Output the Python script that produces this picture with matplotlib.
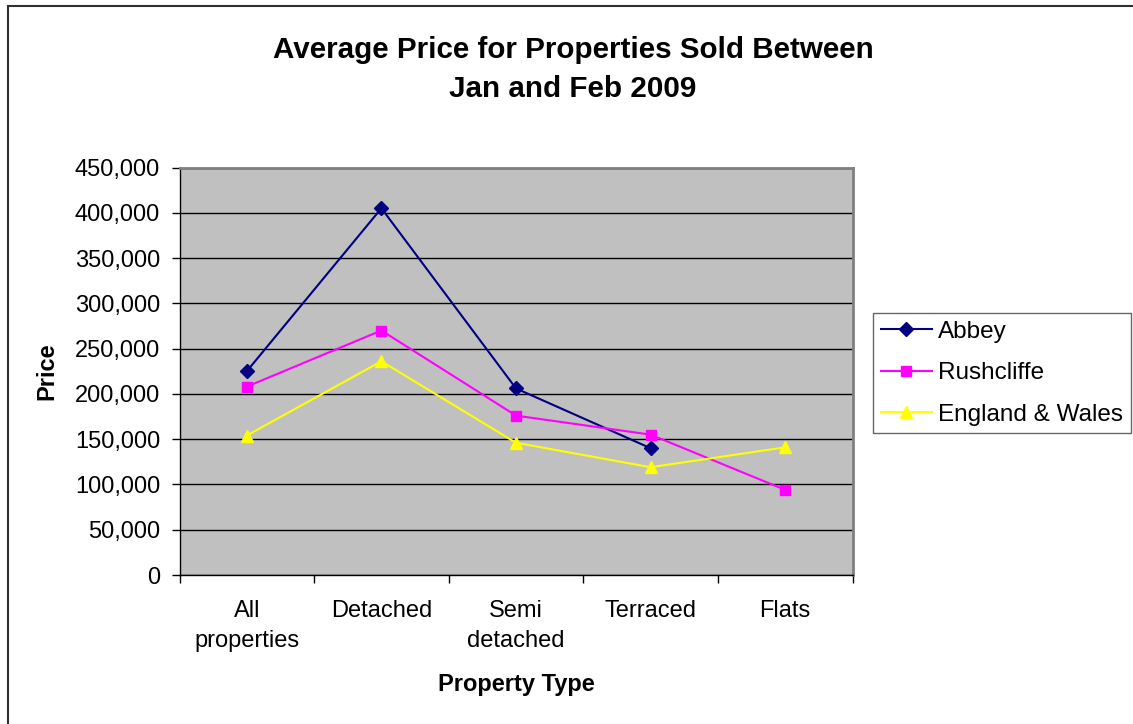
import numpy as np
import matplotlib
matplotlib.use('Agg')
import matplotlib.pyplot as plt
from matplotlib.lines import Line2D
from matplotlib.ticker import FuncFormatter

plt.rcParams['font.family'] = ['Liberation Sans', 'DejaVu Sans']

categories = ['All\nproperties', 'Detached', 'Semi\ndetached', 'Terraced', 'Flats']
abbey = [225000, 405000, 206000, 140000, np.nan]
rushcliffe = [208000, 270000, 176000, 155000, 94000]
england_wales = [154000, 236000, 146000, 119000, 141000]

series = [
    ('Abbey', abbey, '#000080', 'D', 7),
    ('Rushcliffe', rushcliffe, '#FF00FF', 's', 7.5),
    ('England & Wales', england_wales, '#FFFF00', '^', 9),
]

W, H = 1133, 724
fig = plt.figure(figsize=(W / 100, H / 100), dpi=100)
fig.patch.set_facecolor('white')

# outer chart border (only top and left visible in the reference)
fig.add_artist(Line2D([8 / W, 8 / W], [0, 1 - 6 / H], color='#303030',
                      lw=1.5, transform=fig.transFigure))
fig.add_artist(Line2D([8 / W, 1], [1 - 6 / H, 1 - 6 / H], color='#303030',
                      lw=1.5, transform=fig.transFigure))

left, right, top, bottom = 179.5, 852.5, 167.5, 575
ax = fig.add_axes([left / W, 1 - bottom / H, (right - left) / W,
                   (bottom - top) / H])
ax.set_facecolor('#C0C0C0')

x = np.arange(len(categories))
for name, vals, colour, marker, ms in series:
    ax.plot(x, vals,
            label=name,
            color=colour,
            lw=1.5,
            marker=marker,
            ms=ms,
            mfc=colour,
            mec=colour,
            zorder=3)

ax.set_xlim(-0.5, len(categories) - 0.5)
ax.set_ylim(0, 450000)
ax.set_yticks(np.arange(0, 450001, 50000))
ax.yaxis.set_major_formatter(FuncFormatter(lambda v, p: f'{int(v):,}'))
ax.grid(True, axis='y', color='black', lw=1)
ax.set_axisbelow(True)

# category labels centred, ticks at the category boundaries
ax.set_xticks(np.arange(-0.5, len(categories), 1.0))
ax.set_xticklabels([])
ax.set_xticks(x, minor=True)
ax.set_xticklabels(categories, minor=True, fontsize=17, linespacing=1.45)
ax.tick_params(axis='x', which='minor', length=0, pad=18)
ax.tick_params(axis='x', which='major', length=6, width=1, direction='out')
ax.tick_params(axis='y', length=6, width=1, direction='out', pad=8,
               labelsize=17)

for side in ['top', 'right']:
    ax.spines[side].set_color('#808080')
    ax.spines[side].set_linewidth(2)
for side in ['left', 'bottom']:
    ax.spines[side].set_color('black')
    ax.spines[side].set_linewidth(1)

fig.text(573 / W, 1 - 69.5 / H,
         'Average Price for Properties Sold Between\nJan and Feb 2009',
         ha='center', va='center', fontsize=21.3, fontweight='bold',
         linespacing=1.5)
fig.text(516 / W, 1 - 685 / H, 'Property Type', ha='center', va='center',
         fontsize=17, fontweight='bold')
fig.text(47 / W, 1 - 371 / H, 'Price', ha='center', va='center',
         rotation=90, fontsize=17, fontweight='bold')

leg = fig.legend(loc='upper left',
                 bbox_to_anchor=(873 / W, 1 - 313 / H),
                 bbox_transform=fig.transFigure,
                 borderaxespad=0,
                 fontsize=17.5,
                 frameon=True,
                 fancybox=False,
                 handlelength=2.1,
                 handletextpad=0.25,
                 labelspacing=0.8,
                 borderpad=0.32)
leg.get_frame().set_edgecolor('#404040')
leg.get_frame().set_linewidth(1)

fig.savefig('out.png', dpi=100)
